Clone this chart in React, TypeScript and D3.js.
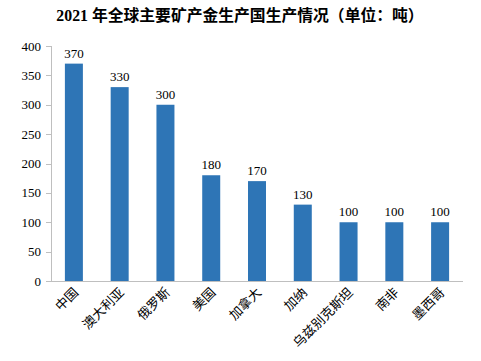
import React from "react";
import * as d3 from "d3";

const categories = ["中国", "澳大利亚", "俄罗斯", "美国", "加拿大", "加纳", "乌兹别克斯坦", "南非", "墨西哥"];
const values = [370, 330, 300, 180, 170, 130, 100, 100, 100];
const yTicks = [0, 50, 100, 150, 200, 250, 300, 350, 400];
const title = "2021 年全球主要矿产金生产国生产情况（单位：吨）";

export default function App() {
  const W = 481, H = 361;
  const left = 51, right = 463, top = 46, bottom = 281;
  const xc = d3.scaleBand<string>().domain(categories).range([left, right]);
  const y = d3.scaleLinear().domain([0, 400]).range([bottom, top]);
  const serif = "'Liberation Serif', 'Times New Roman', serif";
  const cjk = "'Liberation Serif', 'Noto Sans CJK SC', serif";
  return (
    <svg width={W} height={H} style={{ position: "absolute", left: 0, top: 0, background: "#fff" }}>
      <text x={240} y={21} textAnchor="middle" fontFamily={cjk} fontWeight="bold" fontSize={15.8} fill="#000">{title}</text>
      <line x1={left + 0.5} x2={left + 0.5} y1={top} y2={bottom} stroke="#bfbfbf" />
      <line x1={left} x2={right} y1={bottom + 0.5} y2={bottom + 0.5} stroke="#bfbfbf" />
      {yTicks.map((t) => (
        <g key={t}>
          <line x1={left - 5} x2={left} y1={Math.round(y(t)) + 0.5} y2={Math.round(y(t)) + 0.5} stroke="#bfbfbf" />
          <text x={left - 10} y={y(t)} dy="0.35em" textAnchor="end" fontFamily={serif} fontSize={13} fill="#000">{t}</text>
        </g>
      ))}
      {categories.map((c, i) => {
        const cx = (xc(c) as number) + xc.bandwidth() / 2;
        const bw = 18;
        return (
          <g key={c}>
            <rect x={cx - bw / 2} y={y(values[i])} width={bw} height={bottom - y(values[i])} fill="#2E75B6" />
            <text x={cx} y={y(values[i]) - 6} textAnchor="middle" fontFamily={serif} fontSize={13} fill="#000">{values[i]}</text>
            <text transform={`translate(${cx + 2},${bottom + 9}) rotate(-45)`} textAnchor="end" dy="0.35em" fontFamily={cjk} fontSize={13} fill="#000">{c}</text>
          </g>
        );
      })}
    </svg>
  );
}
